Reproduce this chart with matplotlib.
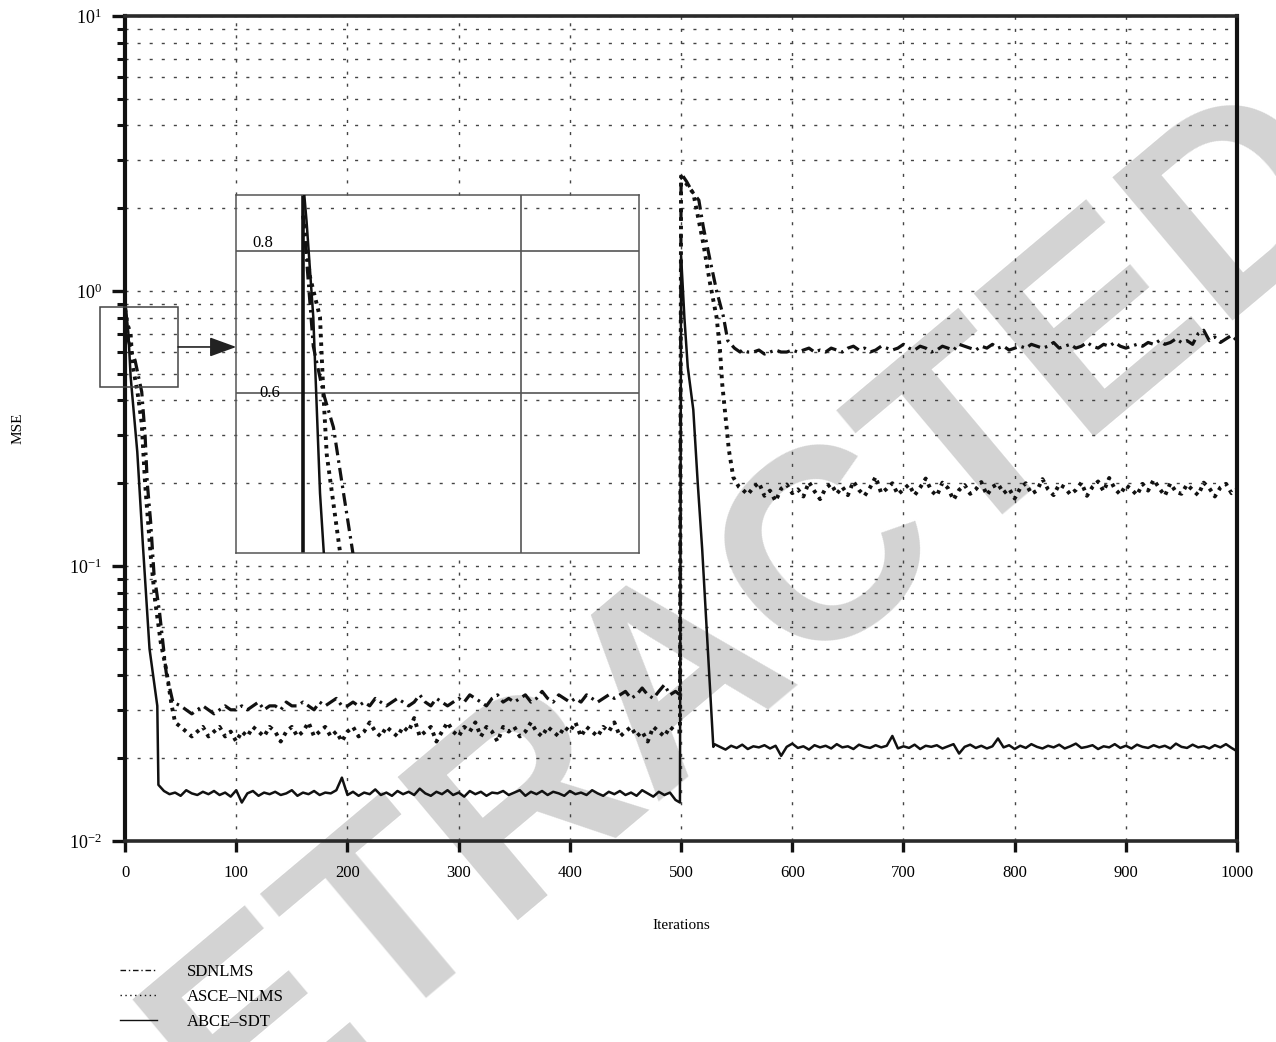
import numpy as np
import matplotlib
matplotlib.use("Agg")
import matplotlib.pyplot as plt
from matplotlib.patches import Rectangle
from matplotlib.lines import Line2D

plt.rcParams["font.family"] = "serif"
plt.rcParams["font.serif"] = ["Liberation Serif", "DejaVu Serif"]
plt.rcParams["mathtext.fontset"] = "custom"
plt.rcParams["mathtext.rm"] = "Liberation Serif"

# ---- data ----
# SDNLMS (dash-dot)
sd_iter_a = [0, 3, 6, 9, 12, 15, 18, 20, 23, 26, 31, 34, 37, 43, 50]
sd_mse_a = [0.86, 0.66, 0.60, 0.56, 0.49, 0.43, 0.30, 0.20, 0.145, 0.094,
            0.068, 0.053, 0.041, 0.032, 0.031]
sd_mse_b = [0.030, 0.029, 0.030, 0.031, 0.030, 0.029, 0.030, 0.031, 0.030, 0.030,
            0.031, 0.030, 0.031, 0.032, 0.030, 0.031, 0.031, 0.030, 0.032, 0.031,
            0.031, 0.032, 0.031, 0.030, 0.032, 0.031, 0.032, 0.033, 0.031, 0.031,
            0.032, 0.031, 0.032, 0.031, 0.033, 0.032, 0.031, 0.032, 0.033, 0.032,
            0.031, 0.032, 0.034, 0.032, 0.031, 0.033, 0.032, 0.031, 0.032, 0.033,
            0.032, 0.034, 0.033, 0.032, 0.031, 0.033, 0.034, 0.032, 0.033, 0.032,
            0.033, 0.034, 0.032, 0.033, 0.035, 0.033, 0.032, 0.034, 0.033, 0.032,
            0.033, 0.032, 0.034, 0.033, 0.032, 0.033, 0.034, 0.033, 0.034, 0.035,
            0.033, 0.034, 0.036, 0.034, 0.033, 0.035, 0.037, 0.034, 0.035]
sd_iter_c = [499, 500, 505, 510, 516, 520, 526, 532, 538, 542, 548, 553]
sd_mse_c = [0.034, 2.68, 2.50, 2.30, 2.14, 1.71, 1.30, 1.00, 0.81, 0.66, 0.62, 0.60]
sd_mse_d = [0.61, 0.60, 0.60, 0.61, 0.59, 0.60, 0.61, 0.60, 0.60, 0.61,
            0.60, 0.61, 0.62, 0.60, 0.61, 0.60, 0.62, 0.61, 0.60, 0.62,
            0.63, 0.61, 0.62, 0.60, 0.61, 0.63, 0.62, 0.61, 0.62, 0.64,
            0.62, 0.61, 0.63, 0.62, 0.60, 0.61, 0.63, 0.62, 0.61, 0.64,
            0.63, 0.62, 0.61, 0.63, 0.62, 0.64, 0.62, 0.63, 0.61, 0.62,
            0.63, 0.62, 0.64, 0.63, 0.62, 0.63, 0.65, 0.62, 0.63, 0.64,
            0.62, 0.63, 0.65, 0.63, 0.62, 0.64, 0.63, 0.65, 0.63, 0.62,
            0.63, 0.64, 0.63, 0.65, 0.64, 0.66, 0.64, 0.65, 0.67, 0.65,
            0.66, 0.64, 0.70, 0.72, 0.66, 0.68, 0.65, 0.67, 0.69, 0.66]

# ASCE-NLMS (dotted)
as_iter_a = [0, 2, 5, 6, 7, 11, 15, 18, 23, 27, 32, 37, 42, 45]
as_mse_a = [0.86, 0.76, 0.70, 0.60, 0.53, 0.434, 0.33, 0.20, 0.11, 0.075,
            0.053, 0.042, 0.031, 0.027]
as_mse_b = [0.026, 0.025, 0.024, 0.025, 0.026, 0.024, 0.025, 0.026, 0.024, 0.025,
            0.023, 0.025, 0.024, 0.026, 0.025, 0.024, 0.026, 0.025, 0.023, 0.025,
            0.026, 0.024, 0.025, 0.027, 0.024, 0.025, 0.026, 0.024, 0.025, 0.023,
            0.025, 0.026, 0.024, 0.025, 0.027, 0.025, 0.024, 0.026, 0.025, 0.024,
            0.026, 0.025, 0.028, 0.024, 0.025, 0.026, 0.023, 0.025, 0.027, 0.025,
            0.024, 0.026, 0.025, 0.027, 0.024, 0.026, 0.025, 0.023, 0.026, 0.025,
            0.026, 0.024, 0.025, 0.027, 0.025, 0.024, 0.026, 0.025, 0.024, 0.026,
            0.025, 0.027, 0.024, 0.026, 0.025, 0.024, 0.026, 0.025, 0.027, 0.024,
            0.025, 0.026, 0.024, 0.025, 0.023, 0.026, 0.025, 0.024, 0.026, 0.025]
as_iter_c = [499, 500, 505, 511, 520, 526, 532, 535, 537, 540, 543, 547, 552]
as_mse_c = [0.025, 2.60, 2.45, 2.27, 1.49, 1.07, 0.80, 0.61, 0.46, 0.35, 0.264,
            0.21, 0.194]
as_mse_d = [0.190, 0.182, 0.193, 0.201, 0.180, 0.188, 0.172, 0.191, 0.198, 0.184,
            0.190, 0.179, 0.202, 0.187, 0.175, 0.192, 0.199, 0.183, 0.194, 0.181,
            0.203, 0.189, 0.180, 0.193, 0.211, 0.184, 0.191, 0.200, 0.182, 0.190,
            0.198, 0.181, 0.193, 0.208, 0.188, 0.180, 0.201, 0.192, 0.174, 0.189,
            0.197, 0.183, 0.190, 0.202, 0.181, 0.194, 0.199, 0.184, 0.191, 0.176,
            0.192, 0.200, 0.183, 0.188, 0.207, 0.190, 0.181, 0.198, 0.193, 0.182,
            0.189, 0.201, 0.180, 0.194, 0.203, 0.187, 0.209, 0.191, 0.182, 0.197,
            0.190, 0.181, 0.199, 0.188, 0.206, 0.192, 0.180, 0.200, 0.186, 0.183,
            0.198, 0.189, 0.181, 0.201, 0.192, 0.179, 0.193, 0.199, 0.184, 0.190]

# ABCE-SDT (solid)
ab_iter_a = [0, 1, 3, 5, 6, 11, 16, 22, 26, 29, 30]
ab_mse_a = [0.92, 0.85, 0.70, 0.49, 0.44, 0.26, 0.12, 0.05, 0.038, 0.031, 0.016]
ab_mse_b = [0.0152, 0.0148, 0.0150, 0.0146, 0.0153, 0.0149, 0.0147, 0.0151, 0.0148, 0.0152,
            0.0147, 0.0150, 0.0145, 0.0153, 0.0138, 0.0149, 0.0152, 0.0146, 0.0150, 0.0148,
            0.0151, 0.0147, 0.0149, 0.0153, 0.0146, 0.0150, 0.0148, 0.0152, 0.0147, 0.0150,
            0.0149, 0.0153, 0.0170, 0.0147, 0.0151, 0.0146, 0.0150, 0.0148, 0.0154, 0.0147,
            0.0150, 0.0146, 0.0152, 0.0148, 0.0151, 0.0147, 0.0155, 0.0149, 0.0146, 0.0151,
            0.0148, 0.0153, 0.0147, 0.0150, 0.0145, 0.0152, 0.0148, 0.0151, 0.0146, 0.0150,
            0.0149, 0.0152, 0.0147, 0.0150, 0.0153, 0.0146, 0.0151, 0.0148, 0.0152, 0.0147,
            0.0151, 0.0149, 0.0146, 0.0152, 0.0148, 0.0150, 0.0147, 0.0153, 0.0149, 0.0146,
            0.0151, 0.0148, 0.0152, 0.0147, 0.0150, 0.0146, 0.0153, 0.0149, 0.0145, 0.0151,
            0.0147, 0.0150, 0.0141]
ab_iter_c = [499, 500, 503, 506, 511, 515, 519, 524, 527, 529]
ab_mse_c = [0.0138, 1.35, 0.80, 0.53, 0.37, 0.20, 0.115, 0.05, 0.03, 0.022]
ab_mse_d = [0.0225, 0.0220, 0.0215, 0.0222, 0.0218, 0.0224, 0.0216, 0.0221, 0.0219, 0.0223,
            0.0217, 0.0222, 0.0204, 0.0220, 0.0226, 0.0218, 0.0221, 0.0215, 0.0223, 0.0219,
            0.0222, 0.0217, 0.0225, 0.0219, 0.0221, 0.0216, 0.0224, 0.0220, 0.0218, 0.0223,
            0.0219, 0.0222, 0.0241, 0.0217, 0.0221, 0.0218, 0.0224, 0.0216, 0.0222, 0.0220,
            0.0223, 0.0217, 0.0221, 0.0225, 0.0208, 0.0220, 0.0224, 0.0218, 0.0222, 0.0217,
            0.0221, 0.0236, 0.0219, 0.0223, 0.0216, 0.0222, 0.0218, 0.0225, 0.0220, 0.0217,
            0.0222, 0.0219, 0.0224, 0.0217, 0.0221, 0.0226, 0.0218, 0.0220, 0.0223, 0.0216,
            0.0221, 0.0219, 0.0225, 0.0218, 0.0222, 0.0217, 0.0224, 0.0220, 0.0218, 0.0223,
            0.0219, 0.0222, 0.0217, 0.0226, 0.0220, 0.0218, 0.0224, 0.0219, 0.0221, 0.0217,
            0.0223, 0.0219, 0.0225, 0.0218, 0.0212]

labels = ["SDNLMS", "ASCE\u2013NLMS", "ABCE\u2013SDT"]
x_ticks = [0, 100, 200, 300, 400, 500, 600, 700, 800, 900, 1000]

sd_x = np.concatenate([sd_iter_a, np.arange(55, 500, 5), sd_iter_c, np.arange(555, 1001, 5)])
sd_y = np.concatenate([sd_mse_a, sd_mse_b, sd_mse_c, sd_mse_d])
as_x = np.concatenate([as_iter_a, np.arange(50, 500, 5), as_iter_c, np.arange(555, 1001, 5)])
as_y = np.concatenate([as_mse_a, as_mse_b, as_mse_c, as_mse_d])
ab_x = np.concatenate([ab_iter_a, np.arange(35, 500, 5), ab_iter_c, np.arange(530, 1001, 5)])
ab_y = np.concatenate([ab_mse_a, ab_mse_b, ab_mse_c, ab_mse_d])

DASHDOT = (0, (4, 1.6, 0.8, 1.6))
STYLES = [dict(color="#111111", lw=2.3, ls=DASHDOT),
          dict(color="#111111", lw=2.8, ls=(0, (0.9, 1.3))),
          dict(color="#111111", lw=1.8, ls="solid")]
GRID_KW = dict(color="#444444", lw=1.0, ls=(0, (2.2, 6.5)))

fig = plt.figure(figsize=(12.76, 10.42), dpi=100)

# watermark behind everything
fig.text(0.533, 0.35, "RETRACTED", rotation=40, fontsize=195, color="#d3d3d3",
         fontweight="bold", family="Liberation Sans", ha="center", va="center",
         zorder=-10)

ax = fig.add_axes([0.098, 0.1929, 0.8715, 0.7917])
ax.patch.set_alpha(0)
ax.set_yscale("log")
ax.set_xlim(0, 1000)
ax.set_ylim(1e-2, 1e1)
ax.set_xticks(x_ticks)
ax.set_xticklabels([str(t) for t in x_ticks])

ax.grid(True, axis="y", which="both", **GRID_KW)

# inset footprint in data units (vertical grid hidden behind it)
ins_x0, ins_x1 = 100, 462
ins_y0, ins_y1 = 0.1115, 2.234
for xv in x_ticks[1:-1]:
    if ins_x0 <= xv <= ins_x1:
        ax.plot([xv, xv], [1e-2, ins_y0], zorder=1, **GRID_KW)
        ax.plot([xv, xv], [ins_y1, 1e1], zorder=1, **GRID_KW)
    else:
        ax.plot([xv, xv], [1e-2, 1e1], zorder=1, **GRID_KW)

ax.plot(sd_x, sd_y, zorder=3, **STYLES[0])
ax.plot(as_x, as_y, zorder=3, **STYLES[1])
ax.plot(ab_x, ab_y, zorder=3, **STYLES[2])

for side in ["left", "right"]:
    ax.spines[side].set_linewidth(3.0)
    ax.spines[side].set_color("#111111")
for side in ["top", "bottom"]:
    ax.spines[side].set_linewidth(2.6)
    ax.spines[side].set_color("#2a2a2a")

ax.tick_params(axis="x", which="major", direction="out", length=8, width=2.4,
               labelsize=12, pad=9, color="#111111", top=False)
ax.tick_params(axis="y", which="major", direction="out", length=9.5, width=2.4,
               labelsize=13, pad=7, color="#111111", right=False)
ax.tick_params(axis="y", which="minor", direction="out", length=6, width=2.2,
               color="#111111", right=False)

ax.set_xlabel("Iterations", fontsize=11)
ax.set_ylabel("MSE", fontsize=11)
ax.xaxis.label.set_va("center")
ax.xaxis.set_label_coords(0.5, -0.102)
ax.yaxis.label.set_va("center")
ax.yaxis.set_label_coords(-0.096, 0.5)

# zoom box and arrow
ax.add_patch(Rectangle((-22.5, 0.448), 70.2, 0.875 - 0.448, fill=False,
                       ec="#444444", lw=1.1, clip_on=False, zorder=4))
ax.annotate("", xy=(ins_x0, 0.626), xytext=(47.7, 0.626),
            arrowprops=dict(arrowstyle="-|>,head_length=1.1,head_width=0.4",
                            color="#222222", lw=1.2, mutation_scale=15,
                            shrinkA=0, shrinkB=0),
            annotation_clip=False, zorder=4)

# inset
axi = fig.add_axes([0.185, 0.4693, 0.3158, 0.3436])
axi.patch.set_alpha(0)
axi.set_yscale("log")
axi.set_xlim(-20, 100)
axi.set_ylim(0.434, 0.897)
axi.set_xticks([65])
axi.set_yticks([0.6, 0.8])
axi.yaxis.set_minor_locator(plt.NullLocator())
axi.set_xticklabels([])
axi.set_yticklabels([])
axi.tick_params(length=0)
axi.grid(True, color="#555555", lw=1.2, ls="solid")
for sp in axi.spines.values():
    sp.set_color("#555555")
    sp.set_linewidth(1.1)
axi.axvline(0, color="#111111", lw=2.6, zorder=2)
axi.plot(sd_x, sd_y, zorder=3, **STYLES[0])
axi.plot(as_x, as_y, zorder=3, **STYLES[1])
axi.plot(ab_x, ab_y, zorder=3, **STYLES[2])
axi.text(-12, 0.8, "0.8", fontsize=12, ha="center", va="bottom")
axi.text(-10, 0.6, "0.6", fontsize=12, ha="center", va="center")

# legend below the axes
handles = [Line2D([], [], color="#111111", lw=1.0, ls=(0, (4, 2, 1, 2))),
           Line2D([], [], color="#111111", lw=1.0, ls=(0, (1, 2.5))),
           Line2D([], [], color="#111111", lw=1.0, ls="solid")]
fig.legend(handles, labels, loc="upper left", bbox_to_anchor=(0.094, 0.075),
           frameon=False, fontsize=12, handlelength=2.2, handletextpad=1.8,
           labelspacing=0.55, borderpad=0, borderaxespad=0)

fig.savefig("out.png", dpi=100)
